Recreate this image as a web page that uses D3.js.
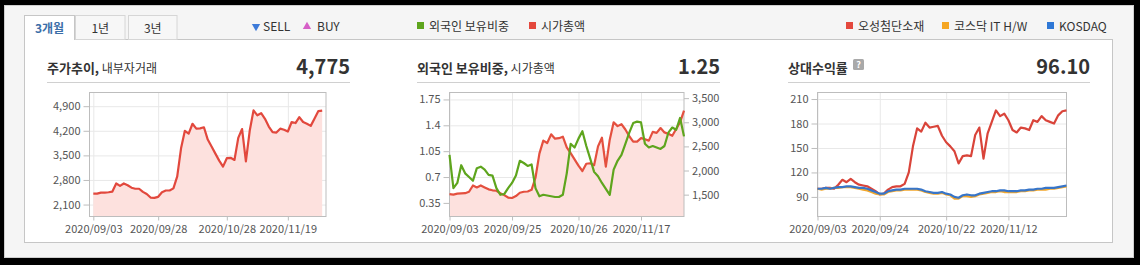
<!DOCTYPE html>
<html><head><meta charset="utf-8">
<script src="https://cdn.jsdelivr.net/npm/d3@7"></script>
<style>
html,body{margin:0;padding:0;background:#000;}
svg{display:block;}
text{font-family:"Noto Sans CJK KR","Liberation Sans",sans-serif;}
</style></head><body>
<svg id="c" width="1140" height="265"></svg>
<script>
// ---------- data ----------
const dates = ["2020/09/03","2020/09/04","2020/09/07","2020/09/08","2020/09/09","2020/09/10","2020/09/11","2020/09/14","2020/09/15","2020/09/16",
"2020/09/17","2020/09/18","2020/09/21","2020/09/22","2020/09/23","2020/09/24","2020/09/25","2020/09/28","2020/09/29","2020/10/05",
"2020/10/06","2020/10/07","2020/10/08","2020/10/12","2020/10/13","2020/10/14","2020/10/15","2020/10/16","2020/10/19","2020/10/20",
"2020/10/21","2020/10/22","2020/10/23","2020/10/26","2020/10/27","2020/10/28","2020/10/29","2020/10/30","2020/11/02","2020/11/03",
"2020/11/04","2020/11/05","2020/11/06","2020/11/09","2020/11/10","2020/11/11","2020/11/12","2020/11/13","2020/11/16","2020/11/17",
"2020/11/18","2020/11/19","2020/11/20","2020/11/23","2020/11/24","2020/11/25","2020/11/26","2020/11/27","2020/11/30","2020/12/01","2020/12/02"];

const price = [2410,2410,2440,2440,2450,2470,2700,2630,2700,2650,2580,2550,2550,2460,2400,2300,2290,2320,2450,2500,
2500,2560,2900,3700,4200,4120,4400,4260,4270,4300,3950,3750,3550,3350,3180,3420,3430,3370,4000,4250,
3330,4200,4780,4640,4700,4540,4320,4160,4150,4260,4230,4180,4450,4420,4590,4450,4400,4340,4550,4760,4775];

const marketCap = [1510,1500,1520,1525,1530,1560,1690,1650,1690,1650,1610,1590,1580,1530,1490,1440,1430,1470,1540,1560,
1565,1600,1850,2350,2620,2570,2750,2660,2670,2700,2480,2360,2230,2100,1990,2140,2150,2110,2500,2680,
2080,2640,3000,2920,2960,2850,2710,2600,2600,2670,2650,2620,2800,2780,2880,2790,2760,2720,2860,3000,3240];

const foreignRatio = [1.00,0.55,0.62,0.86,0.75,0.70,0.65,0.82,0.84,0.80,0.73,0.72,0.55,0.46,0.47,0.55,0.62,0.72,0.92,0.89,
0.85,0.87,0.55,0.44,0.46,0.45,0.44,0.43,0.43,0.46,0.75,1.15,1.10,1.22,1.32,1.12,0.95,0.77,0.71,0.62,
0.54,0.46,0.80,0.92,1.00,1.15,1.30,1.43,1.45,1.44,1.15,1.10,1.12,1.10,1.08,1.12,1.30,1.37,1.34,1.50,1.25];

const relStock = [100,100,101,101,100,105,111,108,112,108,105,104,103,100,97,93,94,99,102,103,
103,106,120,152,174,170,181,175,176,177,165,157,152,146,131,140,141,140,166,175,
137,168,182,196,189,192,184,172,169,175,174,172,184,182,189,184,182,180,190,195,196];

const relSector = [100,99,100,100,101,101,102,102,102,101,100,99,98,96,94,93,93,96,97,98,
98,99,99,99,99,98,96,95,94,94,95,93,92,88,88,91,91,90,91,93,
94,95,96,96,97,96,96,96,96,97,97,98,98,99,99,99,100,100,101,102,103];

const relKosdaq = [100,100,101,100,101,102,102,103,103,102,101,101,100,98,96,94,94,97,98,99,
99,100,100,100,100,99,97,96,95,95,96,94,93,90,89,92,93,92,92,94,
95,96,97,97,98,98,97,97,97,98,98,99,99,100,100,101,101,101,102,103,104];

const priceTicks = [2100,2800,3500,4200,4900];
const ratioTicks = [0.35,0.7,1.05,1.4,1.75];
const capTicks = [1500,2000,2500,3000,3500];
const relTicks = [90,120,150,180,210];
const priceDateTicks = ["2020/09/03","2020/09/28","2020/10/28","2020/11/19"];
const capDateTicks = ["2020/09/03","2020/09/25","2020/10/26","2020/11/17"];
const relDateTicks = ["2020/09/03","2020/09/24","2020/10/22","2020/11/12"];

const tabs = ["3개월","1년","3년"];
const titles = [["주가추이,"," 내부자거래"],["외국인 보유비중,"," 시가총액"],["상대수익률",""]];
const values = ["4,775","1.25","96.10"];

// ---------- drawing ----------
const svg = d3.select("#c");
const NUM = "'Liberation Sans',Arial,sans-serif";
svg.append("rect").attr("x",0).attr("y",0).attr("width",1140).attr("height",265).attr("fill","#000");
svg.append("rect").attr("x",4.5).attr("y",5.5).attr("width",1129).attr("height",252)
  .attr("fill","#f5f5f5").attr("stroke","#cfcfcf");
svg.append("rect").attr("x",24.5).attr("y",39.5).attr("width",1088).attr("height",203)
  .attr("fill","#fff").attr("stroke","#c6c6c6");

// tabs
const tabX = [[24.5,50],[75.5,49.5],[128.5,48.5]];
tabs.forEach((t,i)=>{
  const [tx,tw]=tabX[i];
  svg.append("rect").attr("x",tx).attr("y",15.5).attr("width",tw).attr("height",24)
    .attr("fill",i===0?"#fff":"#f7f7f7").attr("stroke",i===0?"#c6c6c6":"#d6d6d6");
  svg.append("text").attr("x",tx+tw/2).attr("y",33).attr("text-anchor","middle")
    .attr("font-size",12).attr("font-weight",i===0?"bold":"normal")
    .attr("fill",i===0?"#3b6ea8":"#333").text(t);
});
svg.append("line").attr("x1",25).attr("x2",74).attr("y1",39.5).attr("y2",39.5).attr("stroke","#fff");

// legends
function legendSquare(x,color,label){
  svg.append("rect").attr("x",x).attr("y",22).attr("width",7).attr("height",7).attr("fill",color);
  svg.append("text").attr("x",x+12).attr("y",31).attr("font-size",12).attr("fill","#333").text(label);
}
svg.append("path").attr("d",d3.symbol(d3.symbolTriangle,30)()).attr("transform","translate(256,26.5) rotate(180)").attr("fill","#3d7bd9");
svg.append("text").attr("x",263).attr("y",31).attr("font-size",12).attr("fill","#333").text("SELL");
svg.append("path").attr("d",d3.symbol(d3.symbolTriangle,30)()).attr("transform","translate(307,26.5)").attr("fill","#d65fc7");
svg.append("text").attr("x",317).attr("y",31).attr("font-size",12).attr("fill","#333").text("BUY");
legendSquare(417,"#5ea51d","외국인 보유비중");
legendSquare(529,"#e4483d","시가총액");
legendSquare(846,"#e4483d","오성첨단소재");
legendSquare(942,"#f5a623","코스닥 IT H/W");
legendSquare(1047,"#2f78d6","KOSDAQ");

// titles and values
const head = [[47,350],[417,720],[788,1090]];
head.forEach(([a,b],i)=>{
  const t = svg.append("text").attr("x",a).attr("y",73).attr("fill","#333");
  t.append("tspan").attr("font-size",13).attr("font-weight","bold").text(titles[i][0]);
  t.append("tspan").attr("font-size",12).text(titles[i][1]);
  svg.append("text").attr("x",b).attr("y",74).attr("text-anchor","end").attr("font-family",NUM)
    .attr("font-size",20).attr("font-weight","bold").attr("fill","#333").text(values[i]);
  svg.append("line").attr("x1",a).attr("x2",b).attr("y1",82.5).attr("y2",82.5).attr("stroke","#d0d0d0");
});
// help icon
svg.append("rect").attr("x",853).attr("y",59).attr("width",11).attr("height",11).attr("rx",1.5).attr("fill","#a9a9a9");
svg.append("text").attr("x",858.5).attr("y",68).attr("text-anchor","middle").attr("font-family",NUM)
  .attr("font-size",9).attr("font-weight","bold").attr("fill","#fff").text("?");

const TOP=92.5, BOT=216.5;

function frame(x0,x1,xs,xTicks){
  svg.append("g").attr("transform",`translate(0,${BOT})`)
    .call(d3.axisBottom(xs).tickValues(xTicks).tickSize(-(BOT-TOP)).tickFormat(""))
    .call(a=>{a.select(".domain").remove();a.selectAll("line").attr("stroke","#e8e8e8");});
}
function hGrid(x0,x1,ys,ticks){
  svg.append("g").attr("transform",`translate(${x0},0)`)
    .call(d3.axisLeft(ys).tickValues(ticks).tickSize(-(x1-x0)).tickFormat(""))
    .call(a=>{a.select(".domain").remove();a.selectAll("line").attr("stroke","#e8e8e8");});
}
function box(x0,x1){
  svg.append("rect").attr("x",x0).attr("y",TOP).attr("width",x1-x0).attr("height",BOT-TOP)
    .attr("fill","none").attr("stroke","#bdbdbd");
}
function styleAxis(a){
  a.select(".domain").remove();
  a.selectAll("line").attr("stroke","#bdbdbd");
  a.selectAll("text").attr("font-family",NUM).attr("font-size",11).attr("fill","#555");
}
function xAxis(xs,ticks){
  svg.append("g").attr("transform",`translate(0,${BOT})`)
    .call(d3.axisBottom(xs).tickValues(ticks).tickSize(4).tickPadding(5))
    .call(styleAxis);
}
function yLeft(x0,ys,ticks,fmt){
  svg.append("g").attr("transform",`translate(${x0},0)`)
    .call(d3.axisLeft(ys).tickValues(ticks).tickSize(6).tickPadding(3).tickFormat(fmt))
    .call(styleAxis);
}
function yRight(x1,ys,ticks,fmt){
  svg.append("g").attr("transform",`translate(${x1},0)`)
    .call(d3.axisRight(ys).tickValues(ticks).tickSize(5).tickPadding(3).tickFormat(fmt))
    .call(styleAxis);
}
function line(xs,ys,vals,color,w){
  svg.append("path").datum(vals)
    .attr("d",d3.line().x((d,i)=>xs(dates[i])).y(d=>ys(d)))
    .attr("fill","none").attr("stroke",color).attr("stroke-width",w||2).attr("stroke-linejoin","round");
}
function area(xs,ys,vals,color){
  svg.append("path").datum(vals)
    .attr("d",d3.area().x((d,i)=>xs(dates[i])).y0(BOT).y1(d=>ys(d)))
    .attr("fill",color);
}

// chart 1
{
  const x0=89.5,x1=326;
  const xs=d3.scalePoint().domain(dates).range([x0,x1]).padding(1);
  const ys=d3.scaleLinear().domain([1760,5290]).range([BOT,TOP]);
  frame(x0,x1,xs,priceDateTicks); hGrid(x0,x1,ys,priceTicks);
  area(xs,ys,price,"#fde1de");
  box(x0,x1);
  line(xs,ys,price,"#e2483d",2.2);
  xAxis(xs,priceDateTicks);
  yLeft(x0,ys,priceTicks,d3.format(","));
}
// chart 2
{
  const x0=449.5,x1=684;
  const xs=d3.scalePoint().domain(dates).range([x0,x1]);
  const yl=d3.scaleLinear().domain([0.166,1.844]).range([BOT,TOP]);
  const yr=d3.scaleLinear().domain([1047,3617]).range([BOT,TOP]);
  frame(x0,x1,xs,capDateTicks); hGrid(x0,x1,yl,ratioTicks);
  area(xs,yr,marketCap,"#fde1de");
  box(x0,x1);
  line(xs,yr,marketCap,"#e4503f",2.2);
  line(xs,yl,foreignRatio,"#5ea51d",2.2);
  xAxis(xs,capDateTicks);
  yLeft(x0,yl,ratioTicks,d=>String(d));
  yRight(x1,yr,capTicks,d3.format(","));
}
// chart 3
{
  const x0=817.5,x1=1066.5;
  const xs=d3.scalePoint().domain(dates).range([x0,x1]);
  const ys=d3.scaleLinear().domain([66,218]).range([BOT,TOP]);
  frame(x0,x1,xs,relDateTicks); hGrid(x0,x1,ys,relTicks);
  box(x0,x1);
  line(xs,ys,relStock,"#d9443a",2.2);
  line(xs,ys,relSector,"#f2a72c",2.2);
  line(xs,ys,relKosdaq,"#3775c9",2.2);
  xAxis(xs,relDateTicks);
  yLeft(x0,ys,relTicks,d3.format("d"));
}
</script></body></html>
